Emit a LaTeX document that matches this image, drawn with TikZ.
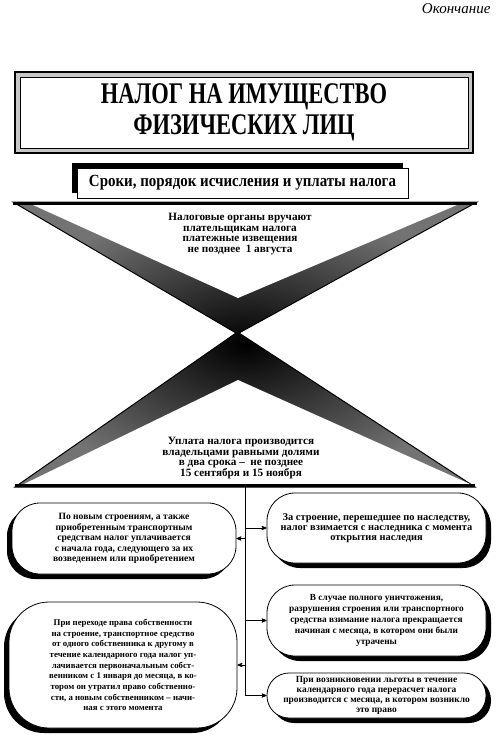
\documentclass[tikz,border=0pt]{standalone}
\usepackage{fontspec}
\setmainfont{Liberation Serif}
\newfontfamily\titlefont[FakeStretch=0.75]{Liberation Serif}
\newfontfamily\subfont[FakeStretch=0.88]{Liberation Serif}
\usetikzlibrary{shapes,arrows,positioning,calc,shadows}

\begin{document}
\begin{tikzpicture}[x=1pt,y=-1pt,>=stealth',
  rbox/.style={draw,line width=0.8pt,fill=white,align=center,inner sep=2pt},
  lshadow/.style={drop shadow={shadow xshift=-5pt,shadow yshift=-5pt,fill=black,opacity=1}},
  rshadow/.style={drop shadow={shadow xshift=5pt,shadow yshift=-5pt,fill=black,opacity=1}},
  hgtext/.style={align=center,font=\bfseries\fontsize{11.2}{10.8}\selectfont},
  link/.style={->,line width=0.8pt}]
\useasboundingbox (0,0) rectangle (498,736);

\node[anchor=east,font=\itshape\fontsize{15}{15}\selectfont] (cont) at (494,9) {Окончание};

% title frame
\draw[line width=2pt,fill=gray!45] (15,72) rectangle (473,153);
\draw[line width=0.8pt,fill=white] (20,77) rectangle (468,148);
\node[align=center,font=\titlefont\bfseries\fontsize{30}{31}\selectfont] (title) at (244,112)
  {НАЛОГ НА ИМУЩЕСТВО\\ФИЗИЧЕСКИХ ЛИЦ};

% subtitle
\fill (72,163) rectangle (403,193);
\node[draw,line width=0.8pt,fill=white,minimum width=331pt,minimum height=30pt,inner sep=1pt,
  font=\subfont\bfseries\fontsize{17}{17}\selectfont] (sub) at (242.5,183)
  {Сроки, порядок исчисления и уплаты налога};

% hourglass
\shade[inner color=black,outer color=black!55,draw,line width=1pt]
  (13,202) -- (477,202) -- (239,333) -- (475,487) -- (15,487) -- (236,333) -- cycle;
\fill[white] (33,205) -- (457,205) -- (238,298) -- cycle;
\fill[white] (238,380) -- (470,484) -- (24,484) -- cycle;
\draw[line width=3pt] (13,203.5) -- (477,203.5);
\draw[line width=3pt] (15,485.5) -- (475,485.5);

\node[hgtext] (notice) at (240,234)
  {Налоговые органы вручают\\плательщикам налога\\платежные извещения\\не позднее~ 1 августа};
\node[hgtext] (pay) at (241,458)
  {Уплата налога производится\\владельцами равными долями\\в два срока --~ не позднее\\15 сентября и 15 ноября};

% boxes
\node[rbox,rshadow,rounded corners=28pt,minimum width=219pt,minimum height=70pt,
  font=\bfseries\fontsize{10.4}{10.2}\selectfont] (r1) at (376.5,528)
  {За строение, перешедшее по наследству,\\налог взимается с наследника с момента\\открытия наследия};
\node[rbox,lshadow,rounded corners=28pt,minimum width=224pt,minimum height=71pt,
  font=\bfseries\fontsize{9.6}{10.4}\selectfont] (l1) at (124,538.5)
  {По новым строениям, а также\\приобретенным транспортным\\средствам налог уплачивается\\с начала года, следующего за их\\возведением или приобретением};
\node[rbox,rshadow,rounded corners=28pt,minimum width=219pt,minimum height=71pt,
  font=\bfseries\fontsize{9.3}{11}\selectfont] (r2) at (376.5,620.5)
  {В случае полного уничтожения,\\разрушения строения или транспортного\\средства взимание налога прекращается\\начиная с месяца, в котором они были\\утрачены};
\node[rbox,lshadow,rounded corners=40pt,minimum width=228pt,minimum height=126pt,
  font=\bfseries\fontsize{8.8}{10.7}\selectfont] (l2) at (123,665)
  {При переходе права собственности\\на строение, транспортное средство\\от одного собственника к другому в\\течение календарного года налог уп-\\лачивается первоначальным собст-\\венником с 1 января до месяца, в ко-\\тором он утратил право собственно-\\сти, а новым собственником -- начи-\\ная с этого момента};
\node[rbox,rshadow,rounded corners=22pt,minimum width=219pt,minimum height=45pt,
  font=\bfseries\fontsize{9.4}{10}\selectfont] (r3) at (376.5,695.5)
  {При возникновении льготы в течение\\календарного года перерасчет налога\\производится с месяца, в котором возникло\\это право};

% connectors
\coordinate (sp) at (245,487);
\draw[line width=0.8pt] (sp) -- (sp |- r3.east);
\draw[link] (sp |- r1.west) -- (r1.west);
\draw[link] (sp |- l1.east) -- (l1.east);
\draw[link] (sp |- r2.west) -- (r2.west);
\draw[link] (sp |- l2.east) -- (l2.east);
\draw[link] (sp |- r3.west) -- (r3.west);
\end{tikzpicture}
\end{document}
